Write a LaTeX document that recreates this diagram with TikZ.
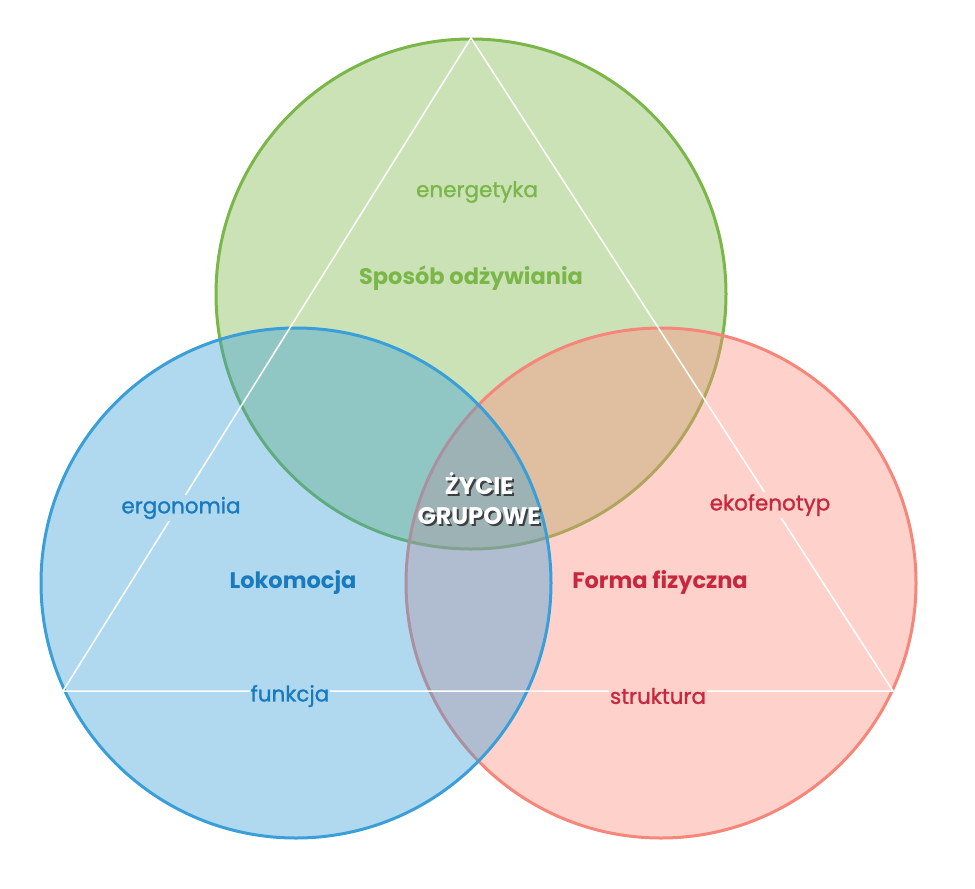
\documentclass[tikz,border=0pt]{standalone}
\usepackage{fontspec}
\setmainfont{Poppins}
\newfontfamily\lblfont{Poppins}[FakeBold=1.2]
\definecolor{gbase}{RGB}{122,182,72}
\definecolor{bbase}{RGB}{58,159,216}
\definecolor{rbase}{RGB}{255,140,125}
\definecolor{rstroke}{RGB}{247,134,122}
\definecolor{gtext}{RGB}{122,182,72}
\definecolor{btext}{RGB}{26,122,190}
\definecolor{rtext}{RGB}{200,40,62}
\definecolor{shade}{RGB}{60,64,66}
\tikzset{
  lbl/.style={font=\lblfont\fontsize{21.5}{24}\selectfont, inner xsep=1pt, inner ysep=2pt},
  head/.style={font=\fontsize{22.5}{26}\selectfont\bfseries, inner sep=1pt},
  core/.style={font=\fontsize{24}{30}\selectfont\bfseries, inner sep=0pt, align=center},
  ring/.style={line width=3pt, fill opacity=0.4},
  tri/.style={draw=white, line width=1.5pt, line join=miter}
}
\begin{document}
\begin{tikzpicture}[x=1pt,y=-1pt]
\useasboundingbox (0,0) rectangle (975,889);
% circles
\draw[ring, draw=gbase, fill=gbase] (471,294) circle [radius=255pt];
\draw[ring, draw=rstroke, fill=rbase] (661,583) circle [radius=255pt];
\draw[ring, draw=bbase, fill=bbase] (296,583) circle [radius=255pt];
% triangle
\coordinate (ta) at (471,38);
\coordinate (tb) at (63,691);
\coordinate (tc) at (893,691);
\draw[tri] (ta) -- (tb) -- (tc) -- cycle;
% labels
\node[lbl, text=gtext] (energ) at (477,192) {energetyka};
\node[head, text=gtext] (spos) at (471,278) {Sposób odżywiania};
\node[lbl, text=btext, fill=bbase!40!white] (ergo) at (181,508) {ergonomia};
\node[head, text=btext] (loko) at (293,582) {Lokomocja};
\node[lbl, text=rtext, fill=rbase!40!white] (ekof) at (770,505) {ekofenotyp};
\node[head, text=rtext] (forma) at (660,582) {Forma fizyczna};
\node[lbl, text=btext, fill=bbase!40!white] (funk) at (290,696) {funkcja};
\node[lbl, text=rtext, fill=rbase!40!white] (struk) at (658,696) {struktura};
% center
\node[core, text=shade] (zycs) at (481,501) {ŻYCIE\\GRUPOWE};
\node[core, text=white] (zyc) at (479,499) {ŻYCIE\\GRUPOWE};
\end{tikzpicture}
\end{document}
